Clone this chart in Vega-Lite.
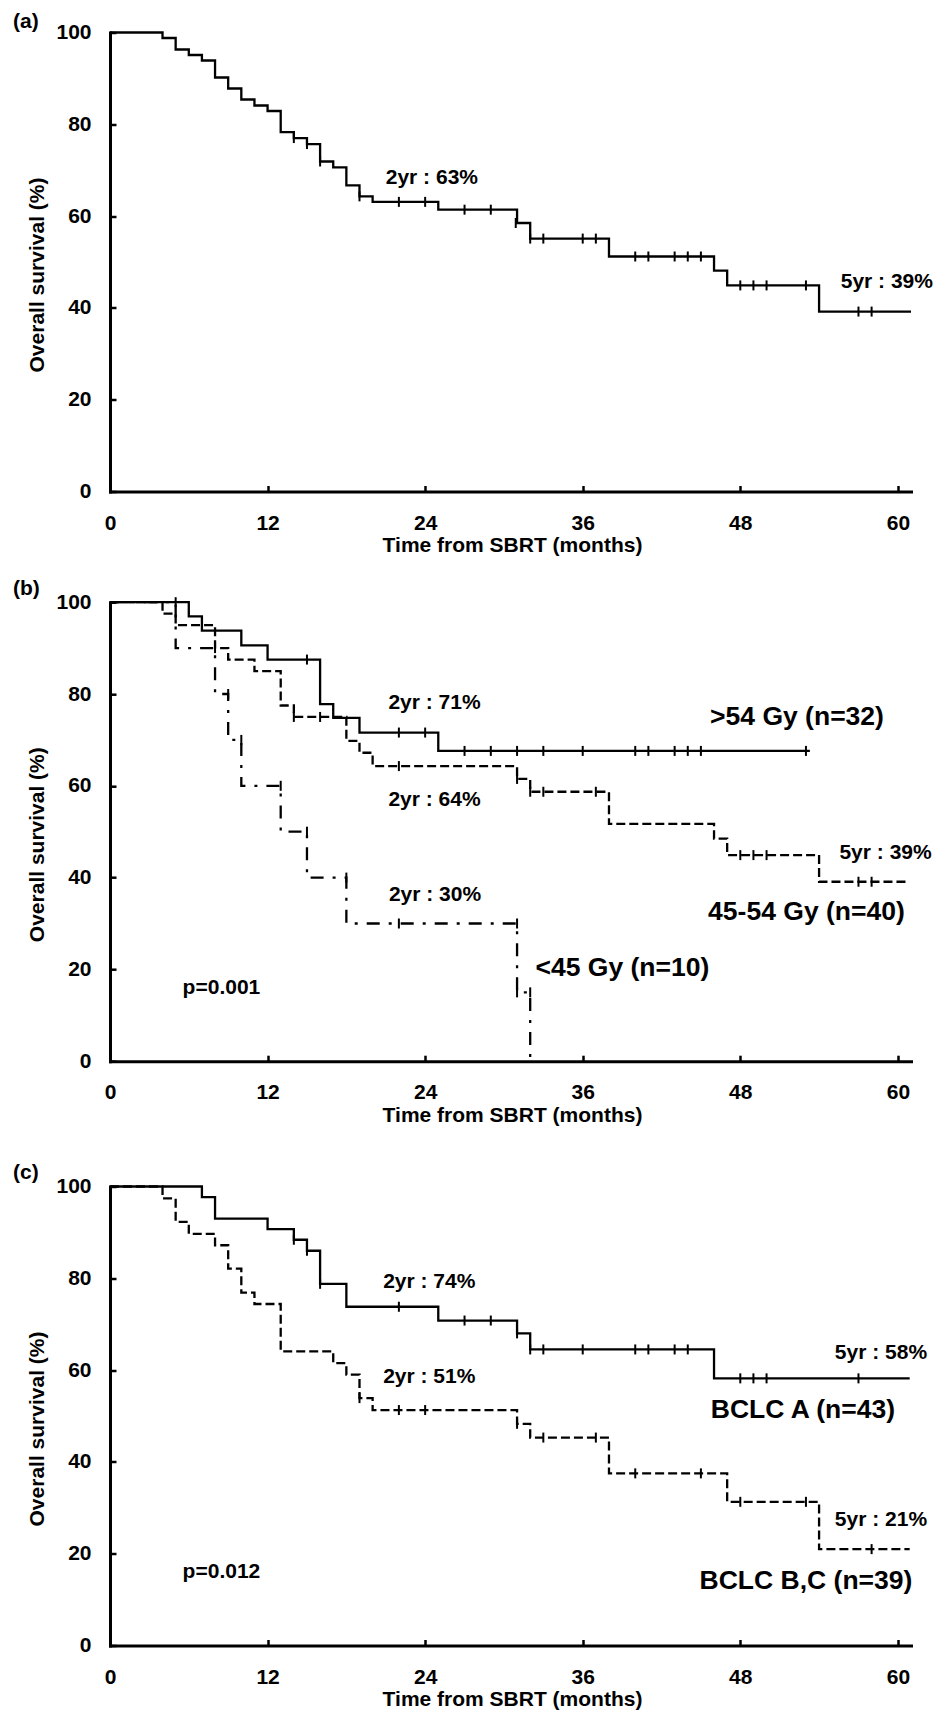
{
  "$schema": "https://vega.github.io/schema/vega-lite/v6.json",
  "background": "white",
  "padding": {"left": 13, "top": 10.5, "right": 0, "bottom": 0},
  "config": {
    "view": {"stroke": null},
    "font": "Liberation Sans",
    "axis": {"domainColor": "#000", "domainWidth": 3, "domainCap": "square", "tickColor": "#000", "tickWidth": 2.5, "tickSize": -6, "labelColor": "#000", "labelFont": "Liberation Sans", "labelFontSize": 21, "labelFontWeight": "bold", "titleColor": "#000", "titleFont": "Liberation Sans", "titleFontSize": 21, "titleFontWeight": "bold", "grid": false, "labelOverlap": false},
    "title": {"font": "Liberation Sans", "fontSize": 21, "fontWeight": "bold", "color": "#000", "anchor": "start", "frame": "group", "dx": -97, "baseline": "middle"}
  },
  "datasets": {
    "curves": [
      {"panel": "a", "group": "all", "t": 0, "s": 100}, {"panel": "a", "group": "all", "t": 4, "s": 98.8}, {"panel": "a", "group": "all", "t": 5, "s": 96.3}, {"panel": "a", "group": "all", "t": 6, "s": 95.1}, {"panel": "a", "group": "all", "t": 7, "s": 93.9}, {"panel": "a", "group": "all", "t": 8, "s": 90.2}, {"panel": "a", "group": "all", "t": 9, "s": 87.8}, {"panel": "a", "group": "all", "t": 10, "s": 85.4}, {"panel": "a", "group": "all", "t": 11, "s": 84.1}, {"panel": "a", "group": "all", "t": 12, "s": 82.9}, {"panel": "a", "group": "all", "t": 13, "s": 78.3}, {"panel": "a", "group": "all", "t": 14, "s": 77.0}, {"panel": "a", "group": "all", "t": 15, "s": 75.7}, {"panel": "a", "group": "all", "t": 16, "s": 71.9}, {"panel": "a", "group": "all", "t": 17, "s": 70.6}, {"panel": "a", "group": "all", "t": 18, "s": 66.7}, {"panel": "a", "group": "all", "t": 19, "s": 64.3}, {"panel": "a", "group": "all", "t": 20, "s": 63.1}, {"panel": "a", "group": "all", "t": 25, "s": 61.4}, {"panel": "a", "group": "all", "t": 31, "s": 58.5}, {"panel": "a", "group": "all", "t": 32, "s": 55.1}, {"panel": "a", "group": "all", "t": 38, "s": 51.2}, {"panel": "a", "group": "all", "t": 46, "s": 48.1}, {"panel": "a", "group": "all", "t": 47, "s": 44.9}, {"panel": "a", "group": "all", "t": 54, "s": 39.2}, {"panel": "a", "group": "all", "t": 61, "s": 39.2},
      {"panel": "b", "group": ">54 Gy", "t": 0, "s": 100}, {"panel": "b", "group": ">54 Gy", "t": 6, "s": 96.9}, {"panel": "b", "group": ">54 Gy", "t": 7, "s": 93.8}, {"panel": "b", "group": ">54 Gy", "t": 10, "s": 90.6}, {"panel": "b", "group": ">54 Gy", "t": 12, "s": 87.5}, {"panel": "b", "group": ">54 Gy", "t": 16, "s": 77.8}, {"panel": "b", "group": ">54 Gy", "t": 17, "s": 74.8}, {"panel": "b", "group": ">54 Gy", "t": 19, "s": 71.6}, {"panel": "b", "group": ">54 Gy", "t": 25, "s": 67.6}, {"panel": "b", "group": ">54 Gy", "t": 53.3, "s": 67.6},
      {"panel": "b", "group": "45-54 Gy", "t": 0, "s": 100}, {"panel": "b", "group": "45-54 Gy", "t": 4, "s": 97.5}, {"panel": "b", "group": "45-54 Gy", "t": 5, "s": 95}, {"panel": "b", "group": "45-54 Gy", "t": 8, "s": 90}, {"panel": "b", "group": "45-54 Gy", "t": 9, "s": 87.5}, {"panel": "b", "group": "45-54 Gy", "t": 11, "s": 85}, {"panel": "b", "group": "45-54 Gy", "t": 13, "s": 77.5}, {"panel": "b", "group": "45-54 Gy", "t": 14, "s": 75}, {"panel": "b", "group": "45-54 Gy", "t": 18, "s": 69.8}, {"panel": "b", "group": "45-54 Gy", "t": 19, "s": 67.2}, {"panel": "b", "group": "45-54 Gy", "t": 20, "s": 64.3}, {"panel": "b", "group": "45-54 Gy", "t": 31, "s": 61.5}, {"panel": "b", "group": "45-54 Gy", "t": 32, "s": 58.7}, {"panel": "b", "group": "45-54 Gy", "t": 38, "s": 51.7}, {"panel": "b", "group": "45-54 Gy", "t": 46, "s": 48.5}, {"panel": "b", "group": "45-54 Gy", "t": 47, "s": 44.9}, {"panel": "b", "group": "45-54 Gy", "t": 54, "s": 39.1}, {"panel": "b", "group": "45-54 Gy", "t": 60.8, "s": 39.1},
      {"panel": "b", "group": "<45 Gy", "t": 0, "s": 100}, {"panel": "b", "group": "<45 Gy", "t": 5, "s": 90}, {"panel": "b", "group": "<45 Gy", "t": 8, "s": 80}, {"panel": "b", "group": "<45 Gy", "t": 9, "s": 70}, {"panel": "b", "group": "<45 Gy", "t": 10, "s": 60}, {"panel": "b", "group": "<45 Gy", "t": 13, "s": 50}, {"panel": "b", "group": "<45 Gy", "t": 15, "s": 40}, {"panel": "b", "group": "<45 Gy", "t": 18, "s": 30}, {"panel": "b", "group": "<45 Gy", "t": 31, "s": 15}, {"panel": "b", "group": "<45 Gy", "t": 32, "s": 0},
      {"panel": "c", "group": "BCLC A", "t": 0, "s": 100}, {"panel": "c", "group": "BCLC A", "t": 7, "s": 97.7}, {"panel": "c", "group": "BCLC A", "t": 8, "s": 93.0}, {"panel": "c", "group": "BCLC A", "t": 12, "s": 90.7}, {"panel": "c", "group": "BCLC A", "t": 14, "s": 88.4}, {"panel": "c", "group": "BCLC A", "t": 15, "s": 86.0}, {"panel": "c", "group": "BCLC A", "t": 16, "s": 78.8}, {"panel": "c", "group": "BCLC A", "t": 18, "s": 73.8}, {"panel": "c", "group": "BCLC A", "t": 25, "s": 70.8}, {"panel": "c", "group": "BCLC A", "t": 31, "s": 68.0}, {"panel": "c", "group": "BCLC A", "t": 32, "s": 64.5}, {"panel": "c", "group": "BCLC A", "t": 46, "s": 58.2}, {"panel": "c", "group": "BCLC A", "t": 60.9, "s": 58.2},
      {"panel": "c", "group": "BCLC B,C", "t": 0, "s": 100}, {"panel": "c", "group": "BCLC B,C", "t": 4, "s": 97.4}, {"panel": "c", "group": "BCLC B,C", "t": 5, "s": 92.3}, {"panel": "c", "group": "BCLC B,C", "t": 6, "s": 89.7}, {"panel": "c", "group": "BCLC B,C", "t": 8, "s": 87.2}, {"panel": "c", "group": "BCLC B,C", "t": 9, "s": 82.1}, {"panel": "c", "group": "BCLC B,C", "t": 10, "s": 76.9}, {"panel": "c", "group": "BCLC B,C", "t": 11, "s": 74.4}, {"panel": "c", "group": "BCLC B,C", "t": 13, "s": 64.1}, {"panel": "c", "group": "BCLC B,C", "t": 17, "s": 61.5}, {"panel": "c", "group": "BCLC B,C", "t": 18, "s": 59.0}, {"panel": "c", "group": "BCLC B,C", "t": 19, "s": 53.9}, {"panel": "c", "group": "BCLC B,C", "t": 20, "s": 51.3}, {"panel": "c", "group": "BCLC B,C", "t": 31, "s": 48.3}, {"panel": "c", "group": "BCLC B,C", "t": 32, "s": 45.3}, {"panel": "c", "group": "BCLC B,C", "t": 38, "s": 37.5}, {"panel": "c", "group": "BCLC B,C", "t": 47, "s": 31.3}, {"panel": "c", "group": "BCLC B,C", "t": 54, "s": 21.0}, {"panel": "c", "group": "BCLC B,C", "t": 60.9, "s": 21.0}
    ],
    "censors": [
      {"panel": "a", "t": 14, "s": 77.0}, {"panel": "a", "t": 15, "s": 75.7}, {"panel": "a", "t": 16, "s": 71.9}, {"panel": "a", "t": 19, "s": 64.3}, {"panel": "a", "t": 22, "s": 63.1}, {"panel": "a", "t": 24, "s": 63.1}, {"panel": "a", "t": 27, "s": 61.4}, {"panel": "a", "t": 29, "s": 61.4}, {"panel": "a", "t": 30.9, "s": 58.5}, {"panel": "a", "t": 32, "s": 55.1}, {"panel": "a", "t": 33, "s": 55.1}, {"panel": "a", "t": 36, "s": 55.1}, {"panel": "a", "t": 37, "s": 55.1}, {"panel": "a", "t": 40, "s": 51.2}, {"panel": "a", "t": 41, "s": 51.2}, {"panel": "a", "t": 43, "s": 51.2}, {"panel": "a", "t": 44, "s": 51.2}, {"panel": "a", "t": 45, "s": 51.2}, {"panel": "a", "t": 48, "s": 44.9}, {"panel": "a", "t": 49, "s": 44.9}, {"panel": "a", "t": 50, "s": 44.9}, {"panel": "a", "t": 53, "s": 44.9}, {"panel": "a", "t": 57, "s": 39.2}, {"panel": "a", "t": 58, "s": 39.2},
      {"panel": "b", "t": 15, "s": 87.5}, {"panel": "b", "t": 22, "s": 71.6}, {"panel": "b", "t": 24, "s": 71.6}, {"panel": "b", "t": 27, "s": 67.6}, {"panel": "b", "t": 29, "s": 67.6}, {"panel": "b", "t": 31, "s": 67.6}, {"panel": "b", "t": 33, "s": 67.6}, {"panel": "b", "t": 36, "s": 67.6}, {"panel": "b", "t": 40, "s": 67.6}, {"panel": "b", "t": 41, "s": 67.6}, {"panel": "b", "t": 43, "s": 67.6}, {"panel": "b", "t": 44, "s": 67.6}, {"panel": "b", "t": 45, "s": 67.6}, {"panel": "b", "t": 53, "s": 67.6},
      {"panel": "b", "t": 14, "s": 75}, {"panel": "b", "t": 16, "s": 75}, {"panel": "b", "t": 22, "s": 64.3}, {"panel": "b", "t": 31, "s": 61.5}, {"panel": "b", "t": 32, "s": 58.7}, {"panel": "b", "t": 33, "s": 58.7}, {"panel": "b", "t": 37, "s": 58.7}, {"panel": "b", "t": 48, "s": 44.9}, {"panel": "b", "t": 49, "s": 44.9}, {"panel": "b", "t": 50, "s": 44.9}, {"panel": "b", "t": 57, "s": 39.1}, {"panel": "b", "t": 58, "s": 39.1},
      {"panel": "b", "t": 5, "s": 100}, {"panel": "b", "t": 8, "s": 90}, {"panel": "b", "t": 9, "s": 80}, {"panel": "b", "t": 10, "s": 70}, {"panel": "b", "t": 13, "s": 60}, {"panel": "b", "t": 15, "s": 50}, {"panel": "b", "t": 18, "s": 40}, {"panel": "b", "t": 22, "s": 30}, {"panel": "b", "t": 31, "s": 30}, {"panel": "b", "t": 31, "s": 15}, {"panel": "b", "t": 32, "s": 15},
      {"panel": "c", "t": 14, "s": 88.4}, {"panel": "c", "t": 15, "s": 86.0}, {"panel": "c", "t": 16, "s": 78.8}, {"panel": "c", "t": 22, "s": 73.8}, {"panel": "c", "t": 27, "s": 70.8}, {"panel": "c", "t": 29, "s": 70.8}, {"panel": "c", "t": 31, "s": 68.0}, {"panel": "c", "t": 32, "s": 64.5}, {"panel": "c", "t": 33, "s": 64.5}, {"panel": "c", "t": 36, "s": 64.5}, {"panel": "c", "t": 40, "s": 64.5}, {"panel": "c", "t": 41, "s": 64.5}, {"panel": "c", "t": 43, "s": 64.5}, {"panel": "c", "t": 44, "s": 64.5}, {"panel": "c", "t": 48, "s": 58.2}, {"panel": "c", "t": 49, "s": 58.2}, {"panel": "c", "t": 50, "s": 58.2}, {"panel": "c", "t": 57, "s": 58.2},
      {"panel": "c", "t": 19, "s": 53.9}, {"panel": "c", "t": 22, "s": 51.3}, {"panel": "c", "t": 24, "s": 51.3}, {"panel": "c", "t": 31, "s": 48.3}, {"panel": "c", "t": 33, "s": 45.3}, {"panel": "c", "t": 37, "s": 45.3}, {"panel": "c", "t": 40, "s": 37.5}, {"panel": "c", "t": 45, "s": 37.5}, {"panel": "c", "t": 48, "s": 31.3}, {"panel": "c", "t": 53, "s": 31.3}, {"panel": "c", "t": 58, "s": 21.0}
    ],
    "labels": [
      {"panel": "a", "kind": "note", "text": "2yr : 63%", "t": 21.0, "s": 68.2},
      {"panel": "a", "kind": "note", "text": "5yr : 39%", "t": 55.65, "s": 45.6},
      {"panel": "b", "kind": "note", "text": "2yr : 71%", "t": 21.2, "s": 78.0},
      {"panel": "b", "kind": "group", "text": ">54 Gy (n=32)", "t": 45.7, "s": 74.9},
      {"panel": "b", "kind": "note", "text": "2yr : 64%", "t": 21.2, "s": 56.9},
      {"panel": "b", "kind": "note", "text": "5yr : 39%", "t": 55.55, "s": 45.3},
      {"panel": "b", "kind": "group", "text": "45-54 Gy (n=40)", "t": 45.55, "s": 32.5},
      {"panel": "b", "kind": "note", "text": "2yr : 30%", "t": 21.24, "s": 36.2},
      {"panel": "b", "kind": "group", "text": "<45 Gy (n=10)", "t": 32.4, "s": 20.4},
      {"panel": "b", "kind": "note", "text": "p=0.001", "t": 5.53, "s": 15.85},
      {"panel": "c", "kind": "note", "text": "2yr : 74%", "t": 20.8, "s": 79.1},
      {"panel": "c", "kind": "note", "text": "2yr : 51%", "t": 20.8, "s": 58.6},
      {"panel": "c", "kind": "note", "text": "5yr : 58%", "t": 55.2, "s": 63.8},
      {"panel": "c", "kind": "group", "text": "BCLC A (n=43)", "t": 45.75, "s": 51.2},
      {"panel": "c", "kind": "note", "text": "5yr : 21%", "t": 55.2, "s": 27.3},
      {"panel": "c", "kind": "group", "text": "BCLC B,C (n=39)", "t": 44.9, "s": 14.1},
      {"panel": "c", "kind": "note", "text": "p=0.012", "t": 5.53, "s": 16.05}
    ]
  },
  "spacing": 36,
  "vconcat": [
    {
      "spacing": 22.7,
      "vconcat": [
        {
          "width": 801, "height": 459,
          "title": {"text": "(a)", "offset": -10.2},
          "encoding": {
            "x": {"field": "t", "type": "quantitative", "scale": {"domain": [0, 61], "nice": false, "zero": false}, "axis": {"values": [0, 12, 24, 36, 48, 60], "title": "Time from SBRT (months)", "labelPadding": 37.5, "labelBaseline": "middle", "labelFlush": false, "titleX": 402, "titleY": 54, "titleBaseline": "middle", "titleAlign": "center"}},
            "y": {"field": "s", "type": "quantitative", "scale": {"domain": [0, 100], "nice": false}, "axis": {"values": [0, 20, 40, 60, 80, 100], "title": "Overall survival (%)", "labelPadding": 25, "titleX": -73, "titleY": 242, "titleBaseline": "middle", "titleAlign": "center", "titleAngle": -90}}
          },
          "layer": [
            {"data": {"name": "curves"}, "transform": [{"filter": "datum.panel === 'a'"}], "mark": {"type": "line", "interpolate": "step-after", "color": "#000", "strokeWidth": 2.3, "strokeJoin": "miter"}},
            {"data": {"name": "censors"}, "transform": [{"filter": "datum.panel === 'a'"}], "mark": {"type": "tick", "orient": "vertical", "color": "#000", "size": 10, "thickness": 2, "opacity": 1}},
            {"data": {"name": "labels"}, "transform": [{"filter": "datum.panel === 'a'"}], "mark": {"type": "text", "align": "left", "baseline": "middle", "font": "Liberation Sans", "fontWeight": "bold", "fontSize": 21, "color": "#000"}, "encoding": {"text": {"field": "text"}}}
          ]
        },
        {
          "width": 801, "height": 459,
          "title": {"text": "(b)", "offset": -8},
          "encoding": {
            "x": {"field": "t", "type": "quantitative", "scale": {"domain": [0, 61], "nice": false, "zero": false}, "axis": {"values": [0, 12, 24, 36, 48, 60], "title": "Time from SBRT (months)", "labelPadding": 37.5, "labelBaseline": "middle", "labelFlush": false, "titleX": 402, "titleY": 54, "titleBaseline": "middle", "titleAlign": "center"}},
            "y": {"field": "s", "type": "quantitative", "scale": {"domain": [0, 100], "nice": false}, "axis": {"values": [0, 20, 40, 60, 80, 100], "title": "Overall survival (%)", "labelPadding": 25, "titleX": -73, "titleY": 242, "titleBaseline": "middle", "titleAlign": "center", "titleAngle": -90}}
          },
          "layer": [
            {"data": {"name": "curves"}, "transform": [{"filter": "datum.panel === 'b' && datum.group === '<45 Gy'"}], "mark": {"type": "line", "interpolate": "step-after", "color": "#000", "strokeWidth": 2.3, "strokeJoin": "miter", "strokeCap": "butt", "strokeDash": [13, 9, 3, 9]}},
            {"data": {"name": "curves"}, "transform": [{"filter": "datum.panel === 'b' && datum.group === '45-54 Gy'"}], "mark": {"type": "line", "interpolate": "step-after", "color": "#000", "strokeWidth": 2.3, "strokeJoin": "miter", "strokeCap": "butt", "strokeDash": [9, 4]}},
            {"data": {"name": "curves"}, "transform": [{"filter": "datum.panel === 'b' && datum.group === '>54 Gy'"}], "mark": {"type": "line", "interpolate": "step-after", "color": "#000", "strokeWidth": 2.3, "strokeJoin": "miter"}},
            {"data": {"name": "censors"}, "transform": [{"filter": "datum.panel === 'b'"}], "mark": {"type": "tick", "orient": "vertical", "color": "#000", "size": 10, "thickness": 2, "opacity": 1}},
            {"data": {"name": "labels"}, "transform": [{"filter": "datum.panel === 'b' && datum.kind === 'note'"}], "mark": {"type": "text", "align": "left", "baseline": "middle", "font": "Liberation Sans", "fontWeight": "bold", "fontSize": 21, "color": "#000"}, "encoding": {"text": {"field": "text"}}},
            {"data": {"name": "labels"}, "transform": [{"filter": "datum.panel === 'b' && datum.kind === 'group'"}], "mark": {"type": "text", "align": "left", "baseline": "middle", "font": "Liberation Sans", "fontWeight": "bold", "fontSize": 26.5, "color": "#000"}, "encoding": {"text": {"field": "text"}}}
          ]
        }
      ]
    },
    {
      "width": 801, "height": 459,
      "title": {"text": "(c)", "offset": -7.4},
      "encoding": {
        "x": {"field": "t", "type": "quantitative", "scale": {"domain": [0, 61], "nice": false, "zero": false}, "axis": {"values": [0, 12, 24, 36, 48, 60], "title": "Time from SBRT (months)", "labelPadding": 37.5, "labelBaseline": "middle", "labelFlush": false, "titleX": 402, "titleY": 54, "titleBaseline": "middle", "titleAlign": "center"}},
        "y": {"field": "s", "type": "quantitative", "scale": {"domain": [0, 100], "nice": false}, "axis": {"values": [0, 20, 40, 60, 80, 100], "title": "Overall survival (%)", "labelPadding": 25, "titleX": -73, "titleY": 242, "titleBaseline": "middle", "titleAlign": "center", "titleAngle": -90}}
      },
      "layer": [
        {"data": {"name": "curves"}, "transform": [{"filter": "datum.panel === 'c' && datum.group === 'BCLC B,C'"}], "mark": {"type": "line", "interpolate": "step-after", "color": "#000", "strokeWidth": 2.3, "strokeJoin": "miter", "strokeCap": "butt", "strokeDash": [9, 4]}},
        {"data": {"name": "curves"}, "transform": [{"filter": "datum.panel === 'c' && datum.group === 'BCLC A'"}], "mark": {"type": "line", "interpolate": "step-after", "color": "#000", "strokeWidth": 2.3, "strokeJoin": "miter"}},
        {"data": {"name": "censors"}, "transform": [{"filter": "datum.panel === 'c'"}], "mark": {"type": "tick", "orient": "vertical", "color": "#000", "size": 10, "thickness": 2, "opacity": 1}},
        {"data": {"name": "labels"}, "transform": [{"filter": "datum.panel === 'c' && datum.kind === 'note'"}], "mark": {"type": "text", "align": "left", "baseline": "middle", "font": "Liberation Sans", "fontWeight": "bold", "fontSize": 21, "color": "#000"}, "encoding": {"text": {"field": "text"}}},
        {"data": {"name": "labels"}, "transform": [{"filter": "datum.panel === 'c' && datum.kind === 'group'"}], "mark": {"type": "text", "align": "left", "baseline": "middle", "font": "Liberation Sans", "fontWeight": "bold", "fontSize": 26.5, "color": "#000"}, "encoding": {"text": {"field": "text"}}}
      ]
    }
  ]
}
